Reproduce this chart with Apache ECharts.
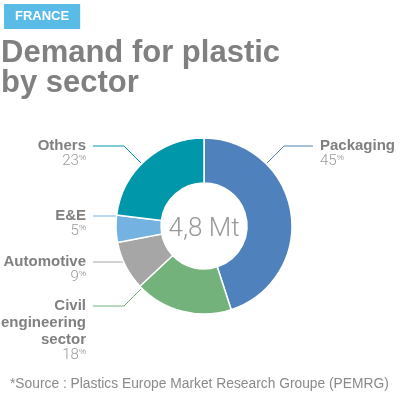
<!DOCTYPE html>
<html>
<head>
<meta charset="utf-8">
<script src="https://cdn.jsdelivr.net/npm/echarts@6/dist/echarts.min.js"></script>
<style>
  html, body { margin: 0; padding: 0; background: #fff; }
  #chart { width: 400px; height: 400px; }
</style>
</head>
<body>
<div id="chart"></div>
<script>
// data
var sectors = ["Packaging", "Civil\nengineering\nsector", "Automotive", "E&E", "Others"];
var shares = [45, 18, 9, 5, 23];
var sectorColors = ["#4f81bd", "#73b27a", "#a6a6a6", "#74b3e1", "#0097ab"];
var totalLabel = "4,8 Mt";

// callout placement (label line y, start angle on the ring or null = horizontal)
var calloutY = [146, 306, 262, 216, 146];
var calloutAngle = [45, 225, null, null, 315];

var cx = 204, cy = 226, rOut = 88, rIn = 43;
var FONT = "'Liberation Sans', Arial, sans-serif";

var myChart = echarts.init(document.getElementById("chart"));

var pieData = [];
for (var i = 0; i < sectors.length; i++) {
  pieData.push({ name: sectors[i], value: shares[i], itemStyle: { color: sectorColors[i] } });
}

var option = {
  animation: false,
  title: [
    {
      text: "FRANCE",
      left: 4,
      top: 4,
      padding: [6, 11, 6, 11],
      backgroundColor: "#5bbbe7",
      textStyle: { color: "#fff", fontSize: 13, fontWeight: "bold", fontFamily: FONT, lineHeight: 13 }
    },
    {
      text: "Demand for plastic\nby sector",
      left: 1,
      top: 38,
      padding: 0,
      textStyle: { color: "#808080", fontSize: 31, fontWeight: "bold", fontFamily: FONT, lineHeight: 30 }
    },
    {
      text: totalLabel,
      left: cx,
      top: cy + 3,
      textAlign: "center",
      textVerticalAlign: "middle",
      padding: 0,
      textStyle: { color: "#999", fontSize: 26, fontWeight: 300, fontFamily: "Roboto, " + FONT }
    },
    {
      text: "*Source : Plastics Europe Market Research Groupe (PEMRG)",
      left: 10,
      top: 377,
      padding: 0,
      textStyle: { color: "#8a8a8a", fontSize: 13.8, fontWeight: "normal", fontFamily: FONT }
    }
  ],
  series: [
    {
      type: "pie",
      center: [cx, cy],
      radius: [rIn, rOut],
      startAngle: 90,
      clockwise: true,
      emphasis: { disabled: true },
      itemStyle: { borderColor: "#fff", borderWidth: 1.5 },
      label: {
        show: true,
        position: "outside",
        overflow: "none",
        formatter: function (p) {
          var lines = p.name.split("\n").map(function (s) { return "{n|" + s + "}"; });
          return lines.join("\n") + "\n{v|" + p.value + "}{p|%}";
        },
        rich: {
          n: { color: "#808080", fontSize: 15, fontWeight: "bold", fontFamily: FONT, lineHeight: 17 },
          v: { color: "#9a9a9a", fontSize: 15, fontFamily: "Roboto, " + FONT, fontWeight: 300, lineHeight: 15 },
          p: { color: "#9a9a9a", fontSize: 8, fontFamily: FONT, verticalAlign: "top", lineHeight: 15 }
        }
      },
      labelLine: { show: true, lineStyle: { width: 1 } },
      labelLayout: function (params) {
        var i = params.dataIndex;
        var ly = calloutY[i];
        var sx, sy;
        if (calloutAngle[i] !== null) {
          var a = calloutAngle[i] * Math.PI / 180;
          sx = cx + rOut * Math.sin(a);
          sy = cy - rOut * Math.cos(a);
        } else {
          sx = cx - Math.sqrt(rOut * rOut - (ly - cy) * (ly - cy));
          sy = ly;
        }
        var right = sx > cx;
        var ex = right ? sx + Math.abs(sy - ly) : sx - Math.abs(sy - ly);
        var endX = right ? 313 : 93;
        return {
          x: right ? 320 : 86,
          y: ly - 9,
          align: right ? "left" : "right",
          verticalAlign: "top",
          labelLinePoints: [[sx, sy], [ex, ly], [endX, ly]]
        };
      },
      data: pieData
    }
  ]
};
myChart.setOption(option);
</script>
</body>
</html>
